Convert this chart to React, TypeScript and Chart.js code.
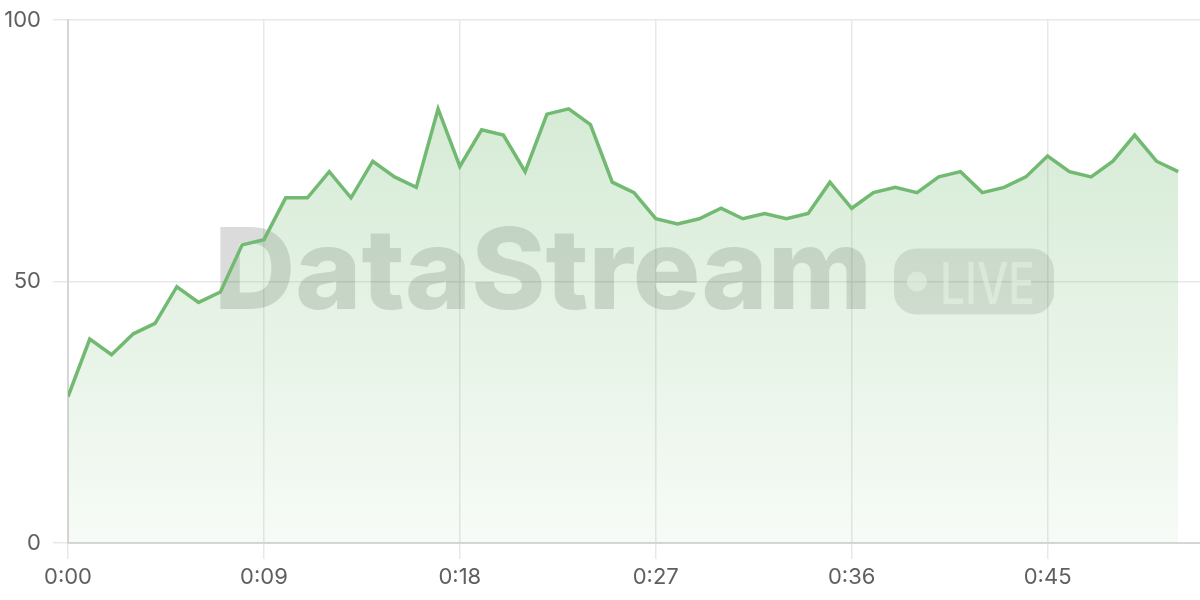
import React, { useEffect, useRef } from "react";
import { Chart, registerables } from "chart.js";

Chart.register(...registerables);

// seconds since start
const seconds = [
  0, 1, 2, 3, 4, 5, 6, 7, 8, 9, 10, 11, 12, 13, 14, 15, 16, 17, 18, 19, 20, 21, 22, 23, 24, 25,
  26, 27, 28, 29, 30, 31, 32, 33, 34, 35, 36, 37, 38, 39, 40, 41, 42, 43, 44, 45, 46, 47, 48, 49, 50, 51,
];
const values = [
  28, 39, 36, 40, 42, 49, 46, 48, 57, 58, 66, 66, 71, 66, 73, 70, 68, 83, 72, 79, 78, 71, 82, 83, 80, 69,
  67, 62, 61, 62, 64, 62, 63, 62, 63, 69, 64, 67, 68, 67, 70, 71, 67, 68, 70, 74, 71, 70, 73, 78, 73, 71,
];
const xTickValues = [0, 9, 18, 27, 36, 45];
const xTickLabels = ["0:00", "0:09", "0:18", "0:27", "0:36", "0:45"];
const yTickValues = [0, 50, 100];
const yTickLabels = ["0", "50", "100"];
const xMax = 52;

const watermarkTitle = "DataStream";
const watermarkBadge = "LIVE";

const FONT = "Inter, 'Noto Sans', sans-serif";

const watermarkPlugin = {
  id: "watermark",
  beforeDatasetsDraw(chart: any) {
    const { ctx, chartArea } = chart;
    const cx = (chartArea.left + chartArea.right) / 2;
    const cy = (chartArea.top + chartArea.bottom) / 2;
    ctx.save();
    // main title
    let size = 108;
    ctx.font = `800 ${size}px ${FONT}`;
    const targetW = 658;
    const w0 = ctx.measureText(watermarkTitle).width;
    size = (size * targetW) / w0;
    ctx.font = `800 ${size}px ${FONT}`;
    const titleW = ctx.measureText(watermarkTitle).width;
    const gap = 22;
    const badgeW = 160;
    const badgeH = 66;
    const totalW = titleW + gap + badgeW;
    const startX = cx - totalW / 2;
    ctx.fillStyle = "rgba(0,0,0,0.14)";
    ctx.textBaseline = "alphabetic";
    ctx.textAlign = "left";
    ctx.fillText(watermarkTitle, startX, cy + 27);
    // badge
    const bx = startX + titleW + gap;
    const by = cy - badgeH / 2;
    ctx.beginPath();
    ctx.roundRect(bx, by, badgeW, badgeH, 22);
    ctx.fillStyle = "rgba(0,0,0,0.11)";
    ctx.fill();
    ctx.fillStyle = "rgba(255,255,255,0.6)";
    ctx.beginPath();
    ctx.arc(bx + 23, cy, 10, 0, Math.PI * 2);
    ctx.fill();
    ctx.font = `500 58px ${FONT}`;
    const lw0 = ctx.measureText(watermarkBadge).width;
    const sx = 95 / lw0;
    ctx.translate(bx + 46, cy + 22);
    ctx.scale(sx, 1);
    ctx.fillText(watermarkBadge, 0, 0);
    ctx.restore();
  },
};

export default function App() {
  const ref = useRef<HTMLCanvasElement>(null);

  useEffect(() => {
    document.body.style.margin = "0";
    const canvas = ref.current!;
    const chart = new Chart(canvas, {
      type: "line",
      data: {
        datasets: [
          {
            data: seconds.map((s, i) => ({ x: s, y: values[i] })),
            borderColor: "rgb(114,186,114)",
            borderWidth: 3.5,
            pointRadius: 0,
            tension: 0,
            fill: "origin",
            backgroundColor: (c: any) => {
              const area = c.chart.chartArea;
              if (!area) return "rgba(114,186,114,0.2)";
              const g = c.chart.ctx.createLinearGradient(0, area.top, 0, area.bottom);
              g.addColorStop(0, "rgba(114,186,114,0.34)");
              g.addColorStop(1, "rgba(114,186,114,0.06)");
              return g;
            },
          },
        ],
      },
      options: {
        animation: false,
        responsive: false,
        devicePixelRatio: 1,
        layout: { padding: { top: 20, right: 0, left: 0, bottom: 0 } },
        plugins: { legend: { display: false }, tooltip: { enabled: false } },
        scales: {
          x: {
            type: "linear",
            min: 0,
            max: xMax,
            afterBuildTicks: (scale: any) => {
              scale.ticks = xTickValues.map((v) => ({ value: v }));
            },
            afterFit: (scale: any) => {
              scale.height = 57;
              scale.paddingLeft = 0;
              scale.paddingRight = 0;
            },
            ticks: {
              color: "#5f5f5f",
              font: { family: FONT, size: 22 },
              padding: 5,
              maxRotation: 0,
              callback: (v: any) => {
                const i = xTickValues.indexOf(Number(v));
                return i >= 0 ? xTickLabels[i] : "";
              },
            },
            grid: { color: "#e8e8e8", lineWidth: 1.5, tickLength: 16 },
            border: { color: "#d6d6d6", width: 2 },
          },
          y: {
            min: 0,
            max: 100,
            afterBuildTicks: (scale: any) => {
              scale.ticks = yTickValues.map((v) => ({ value: v }));
            },
            afterFit: (scale: any) => {
              scale.width = 68;
              scale.paddingTop = 0;
              scale.paddingBottom = 0;
            },
            ticks: {
              color: "#5f5f5f",
              font: { family: FONT, size: 22 },
              padding: 12,
              callback: (v: any) => {
                const i = yTickValues.indexOf(Number(v));
                return i >= 0 ? yTickLabels[i] : "";
              },
            },
            grid: { color: "#e8e8e8", lineWidth: 1.5, tickLength: 15 },
            border: { color: "#d6d6d6", width: 2 },
          },
        },
      },
      plugins: [watermarkPlugin],
    });
    return () => chart.destroy();
  }, []);

  return (
    <div style={{ position: "absolute", left: 0, top: 0, width: 1200, height: 600, background: "#fff" }}>
      <canvas ref={ref} width={1200} height={600} style={{ width: 1200, height: 600, display: "block" }} />
    </div>
  );
}
